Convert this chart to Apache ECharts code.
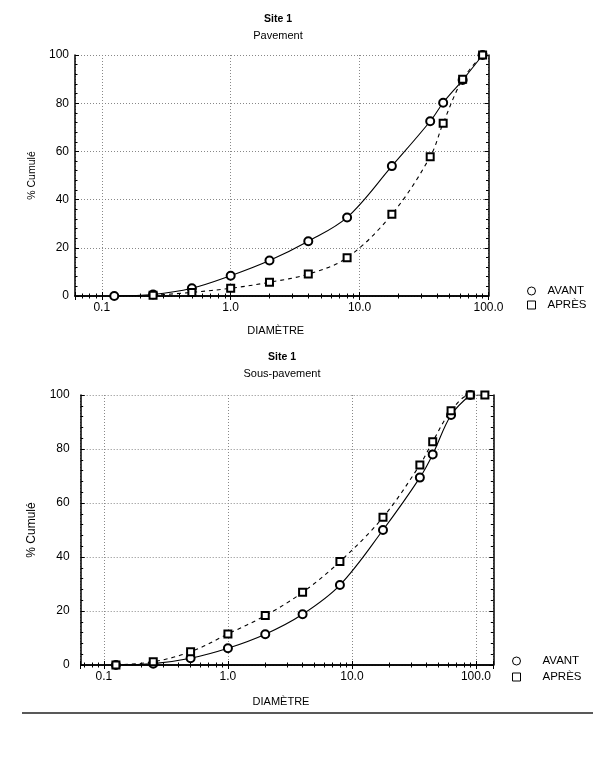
<!DOCTYPE html>
<html>
<head>
<meta charset="utf-8">
<script src="https://cdn.jsdelivr.net/npm/echarts@6/dist/echarts.min.js"></script>
<style>
  html, body { margin: 0; background: #fff; }
  #chart { width: 610px; height: 766px; }
</style>
</head>
<body>
<div id="chart"></div>
<script>
// sieve diameters (mm) and cumulative %
const sieveTop = [0.125, 0.25, 0.5, 1, 2, 4, 8, 17.8, 35.3, 44.5, 63, 90]
const pavAvant = [0, 0.6, 3.2, 8.4, 14.7, 22.7, 32.6, 53.9, 72.5, 80.2, 89.6, 100]
const pavApres = [null, 0.3, 1.5, 3.2, 5.7, 9.1, 15.9, 33.9, 57.8, 71.7, 89.9, 100]

const sieveBottom = [0.125, 0.25, 0.5, 1, 2, 4, 8, 17.8, 35.3, 44.8, 63, 90, 118]
const sousAvant = [0, 0.5, 2.5, 6.2, 11.4, 18.8, 29.6, 50, 69.4, 78, 92.6, 100, null]
const sousApres = [0, 1.2, 4.9, 11.5, 18.3, 26.9, 38.3, 54.7, 74.1, 82.7, 94.2, 100, 100]

const yTicks = [0, 20, 40, 60, 80, 100]
const seriesNames = ['AVANT', 'APRÈS']

const FONT = 'Liberation Sans, Arial, sans-serif'

const pairs = (xs, ys) => xs.map((x, i) => [x, ys[i]]).filter(p => p[1] != null)

const decadeLabel = v => {
  const l = Math.log10(v)
  if (Math.abs(l - Math.round(l)) > 1e-6) return ''
  return v.toFixed(1)
}

const xAxisMain = (gridIndex, min, max, nameGap) => ({
  type: 'log', logBase: 10, gridIndex, min, max,
  axisLine: {lineStyle: {color: '#000', width: 1.5}},
  axisTick: {inside: true, length: 4, lineStyle: {color: '#000'}},
  minorTick: {show: true, splitNumber: 9, length: 2.5, lineStyle: {color: '#000'}},
  splitLine: {show: true, lineStyle: {color: '#888', type: [1, 2]}},
  axisLabel: {formatter: decadeLabel, color: '#000', fontSize: 12, fontFamily: FONT, margin: 6, showMinLabel: false, showMaxLabel: true},
  name: 'DIAMÈTRE', nameLocation: 'middle', nameGap,
  nameTextStyle: {color: '#000', fontSize: 11, fontFamily: FONT, padding: [0, 12, 0, 0]}
})

const xAxisMirror = (gridIndex, min, max) => ({
  type: 'log', logBase: 10, gridIndex, min, max, position: 'top',
  axisLine: {lineStyle: {color: '#000', width: 1.5}},
  axisTick: {inside: true, length: 4, lineStyle: {color: '#000'}},
  minorTick: {show: true, splitNumber: 9, length: 2.5, lineStyle: {color: '#000'}},
  splitLine: {show: false},
  axisLabel: {show: false}
})

const yAxisMain = (gridIndex, nameGap, nameSize, labelMargin) => ({
  type: 'value', gridIndex, min: 0, max: 100, interval: 20,
  axisLine: {show: true, lineStyle: {color: '#000', width: 1.5}},
  axisTick: {show: true, inside: true, length: 4, lineStyle: {color: '#000'}},
  minorTick: {show: true, splitNumber: 5, length: 2.5, lineStyle: {color: '#000'}},
  splitLine: {show: true, lineStyle: {color: '#888', type: [1, 2]}},
  axisLabel: {color: '#000', fontSize: 12, fontFamily: FONT, margin: labelMargin,
    formatter: v => yTicks.includes(v) ? String(v) : ''},
  name: '% Cumulé', nameLocation: 'middle', nameGap, nameRotate: 90,
  nameTextStyle: {color: '#000', fontSize: nameSize, fontFamily: FONT}
})

const yAxisMirror = gridIndex => ({
  type: 'value', gridIndex, min: 0, max: 100, interval: 20, position: 'right',
  axisLine: {show: true, lineStyle: {color: '#000', width: 1.5}},
  axisTick: {show: true, inside: true, length: 4, lineStyle: {color: '#000'}},
  minorTick: {show: true, splitNumber: 5, length: 2.5, lineStyle: {color: '#000'}},
  splitLine: {show: false},
  axisLabel: {show: false}
})

const avantStyle = {
  type: 'line', smooth: 0.35, symbol: 'emptyCircle', symbolSize: 8,
  itemStyle: {color: '#000', borderWidth: 0.9},
  lineStyle: {color: '#000', width: 1.1}
}
const apresStyle = {
  type: 'line', smooth: 0.35, symbol: 'emptyRect', symbolSize: 7,
  itemStyle: {color: '#000', borderWidth: 0.9},
  lineStyle: {color: '#000', width: 1.1, type: [4, 4]}
}

const legendItems = [
  {name: seriesNames[0], icon: 'circle', itemStyle: {color: '#fff', borderColor: '#000', borderWidth: 1}},
  {name: seriesNames[1], icon: 'rect', itemStyle: {color: '#fff', borderColor: '#000', borderWidth: 1}}
]
const legendBox = (left, top, gap, pad) => ({
  left, top, orient: 'vertical', itemWidth: 8, itemHeight: 8, itemGap: gap,
  selectedMode: false, data: legendItems,
  textStyle: {color: '#000', fontSize: 11.5, fontFamily: FONT, padding: [0, 0, 0, pad]}
})

const text = (x, y, t, size, bold) => ({
  type: 'text', x, y,
  style: {text: t, fill: '#000', font: `${bold ? 'bold ' : ''}${size}px ${FONT}`, textAlign: 'center', textVerticalAlign: 'middle'}
})

const chart = echarts.init(document.getElementById('chart'), null, {renderer: 'canvas'})
chart.setOption({
  backgroundColor: '#fff',
  animation: false,
  graphic: [
    text(278, 19, 'Site 1', 10.5, true),
    text(278, 36, 'Pavement', 11),
    text(282, 357, 'Site 1', 10.5, true),
    text(282, 374, 'Sous-pavement', 11),
    {type: 'line', shape: {x1: 22, y1: 713, x2: 593, y2: 713}, style: {stroke: '#222', lineWidth: 1.5}}
  ],
  legend: [legendBox(522, 280, 2, 7), legendBox(507, 650, 4, 17)],
  grid: [
    {left: 75, top: 55, width: 413.5, height: 241},
    {left: 80.7, top: 395, width: 412.6, height: 270}
  ],
  xAxis: [
    xAxisMain(0, 0.062, 100, 29),
    xAxisMirror(0, 0.062, 100),
    xAxisMain(1, 0.065, 138, 31),
    xAxisMirror(1, 0.065, 138)
  ],
  yAxis: [
    yAxisMain(0, 37, 10.5, 6),
    yAxisMirror(0),
    yAxisMain(1, 43, 12, 11),
    yAxisMirror(1)
  ],
  series: [
    {...avantStyle, name: seriesNames[0], xAxisIndex: 0, yAxisIndex: 0, data: pairs(sieveTop, pavAvant)},
    {...apresStyle, name: seriesNames[1], xAxisIndex: 0, yAxisIndex: 0, data: pairs(sieveTop, pavApres)},
    {...avantStyle, name: seriesNames[0], xAxisIndex: 2, yAxisIndex: 2, data: pairs(sieveBottom, sousAvant)},
    {...apresStyle, name: seriesNames[1], xAxisIndex: 2, yAxisIndex: 2, data: pairs(sieveBottom, sousApres)}
  ]
})
</script>
</body>
</html>
